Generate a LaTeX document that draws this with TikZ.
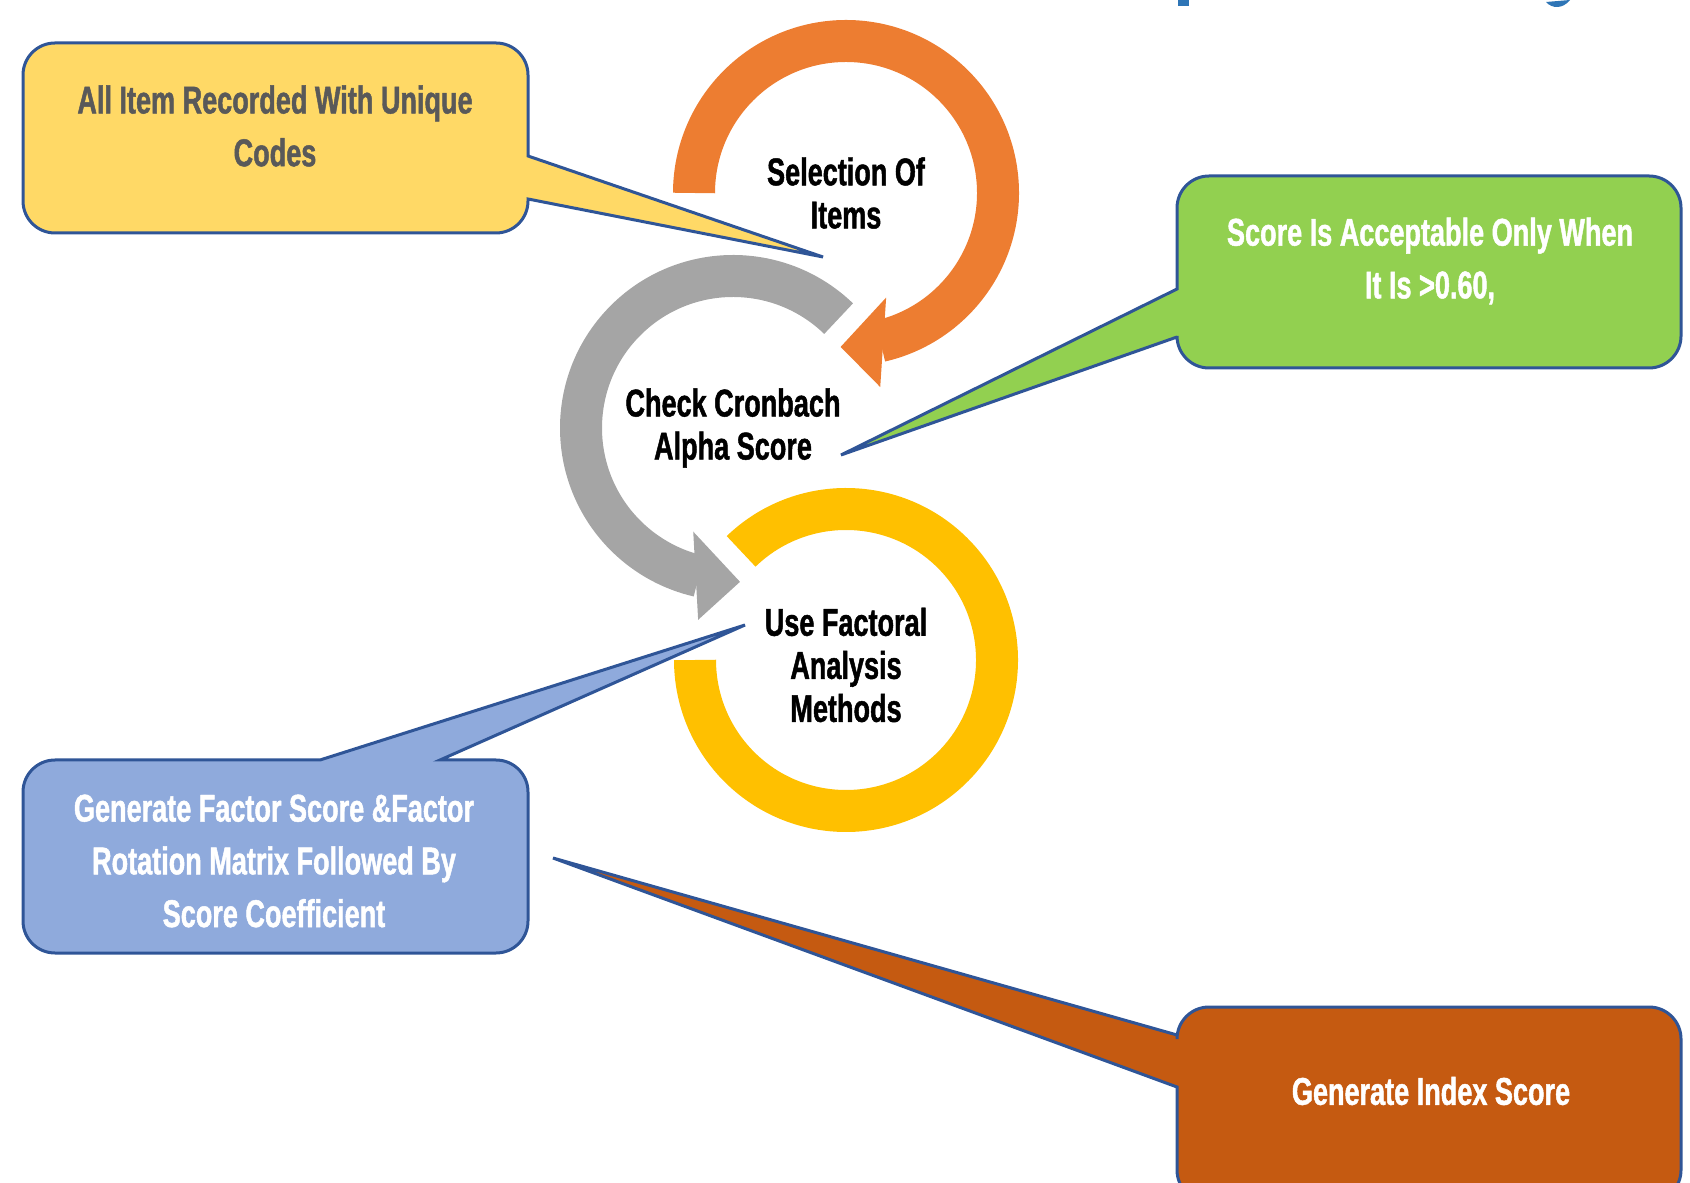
\documentclass[tikz,border=0pt]{standalone}
\usepackage{fontspec}
\newfontfamily\dinfont{Liberation Sans}[FakeStretch=0.70,FakeBold=1.2]
\usetikzlibrary{calc}
\definecolor{RingOrange}{HTML}{ED7D31}
\definecolor{RingGray}{HTML}{A5A5A5}
\definecolor{RingGold}{HTML}{FFC000}
\definecolor{NoteYellow}{HTML}{FFD966}
\definecolor{NoteGreen}{HTML}{92D050}
\definecolor{NoteBlue}{HTML}{8FAADC}
\definecolor{NoteRust}{HTML}{C55A11}
\definecolor{EdgeBlue}{HTML}{2F5597}
\definecolor{TitleBlue}{HTML}{2E75B6}
\definecolor{TextGray}{HTML}{595959}

\begin{document}
\begin{tikzpicture}[x=0.2mm,y=0.2mm,
    ring/.style={line width=8.4mm},
    ringtxt/.style={font=\dinfont\bfseries\fontsize{22}{24.5}\selectfont,align=center,inner sep=0pt},
    notetxt/.style={font=\dinfont\bfseries\fontsize{22}{30}\selectfont,align=center,inner sep=0pt,text=white},
    callout/.style={draw=EdgeBlue,line width=0.6mm}
  ]
  \useasboundingbox (0,0) rectangle (1690,1182);
  \coordinate (selc) at (846,989);
  \coordinate (chkc) at (733,754);
  \coordinate (facc) at (846,522);
  \coordinate (selTip) at (823,925);
  \coordinate (chkTip) at (841,727);
  \coordinate (facTip) at (745,557);
  \coordinate (idxTip) at (553,324);

  \fill[TitleBlue] (1178,1176) rectangle (1189,1186);
  \fill[TitleBlue] (1546,1180) .. controls (1552,1173) and (1563,1173) .. (1570,1182) -- cycle;

  \draw[callout,fill=NoteYellow] (528,983) [rounded corners=6.4mm] -- (528,949) -- (23,949) -- (23,1139)
    -- (528,1139) [sharp corners] -- (528,1026) -- (selTip) -- cycle;
  \draw[callout,fill=NoteGreen] (1177,845) [rounded corners=6.4mm] -- (1177,814) -- (1681,814) -- (1681,1006)
    -- (1177,1006) [sharp corners] -- (1177,893) -- (chkTip) -- cycle;
  \draw[callout,fill=NoteBlue] (440,422) [rounded corners=6.4mm] -- (528,422) -- (528,229) -- (23,229)
    -- (23,422) [sharp corners] -- (320,422) -- (facTip) -- cycle;
  \draw[callout,fill=NoteRust] (1177,95) [rounded corners=6.4mm] -- (1177,-20) -- (1681,-20) -- (1681,175)
    -- (1177,175) [sharp corners] -- (1177,147) -- (idxTip) -- cycle;

  \draw[ring,RingOrange,shift={(selc)}] (180:152) arc (180:-77:152);
  \fill[RingOrange,shift={(selc)}] (-69:112) -- (-80:197) -- (-92:154) -- cycle;
  \draw[ring,RingGray,shift={(chkc)}] (46:152) arc (46:257:152);
  \fill[RingGray,shift={(chkc)}] (249:111) -- (259.7:195) -- (272.6:154) -- cycle;
  \draw[ring,RingGold,shift={(facc)}] (134:151) arc (134:-180:151);

  \node[ringtxt] (sel) at (selc) {Selection Of\\Items};
  \node[ringtxt] (chk) at (chkc) {Check Cronbach\\Alpha Score};
  \node[ringtxt] (fac) at (846,517) {Use Factoral\\Analysis\\Methods};

  \node[notetxt,text=TextGray] (codes) at (275,1056) {All Item Recorded With Unique\\Codes};
  \node[notetxt] (accept) at (1430,921) {Score Is Acceptable Only When\\It Is >0.60,};
  \node[notetxt] (factor) at (274,321) {Generate Factor Score \&Factor\\Rotation Matrix Followed By\\Score Coefficient};
  \node[notetxt] (index) at (1431,91) {Generate Index Score};
\end{tikzpicture}
\end{document}
